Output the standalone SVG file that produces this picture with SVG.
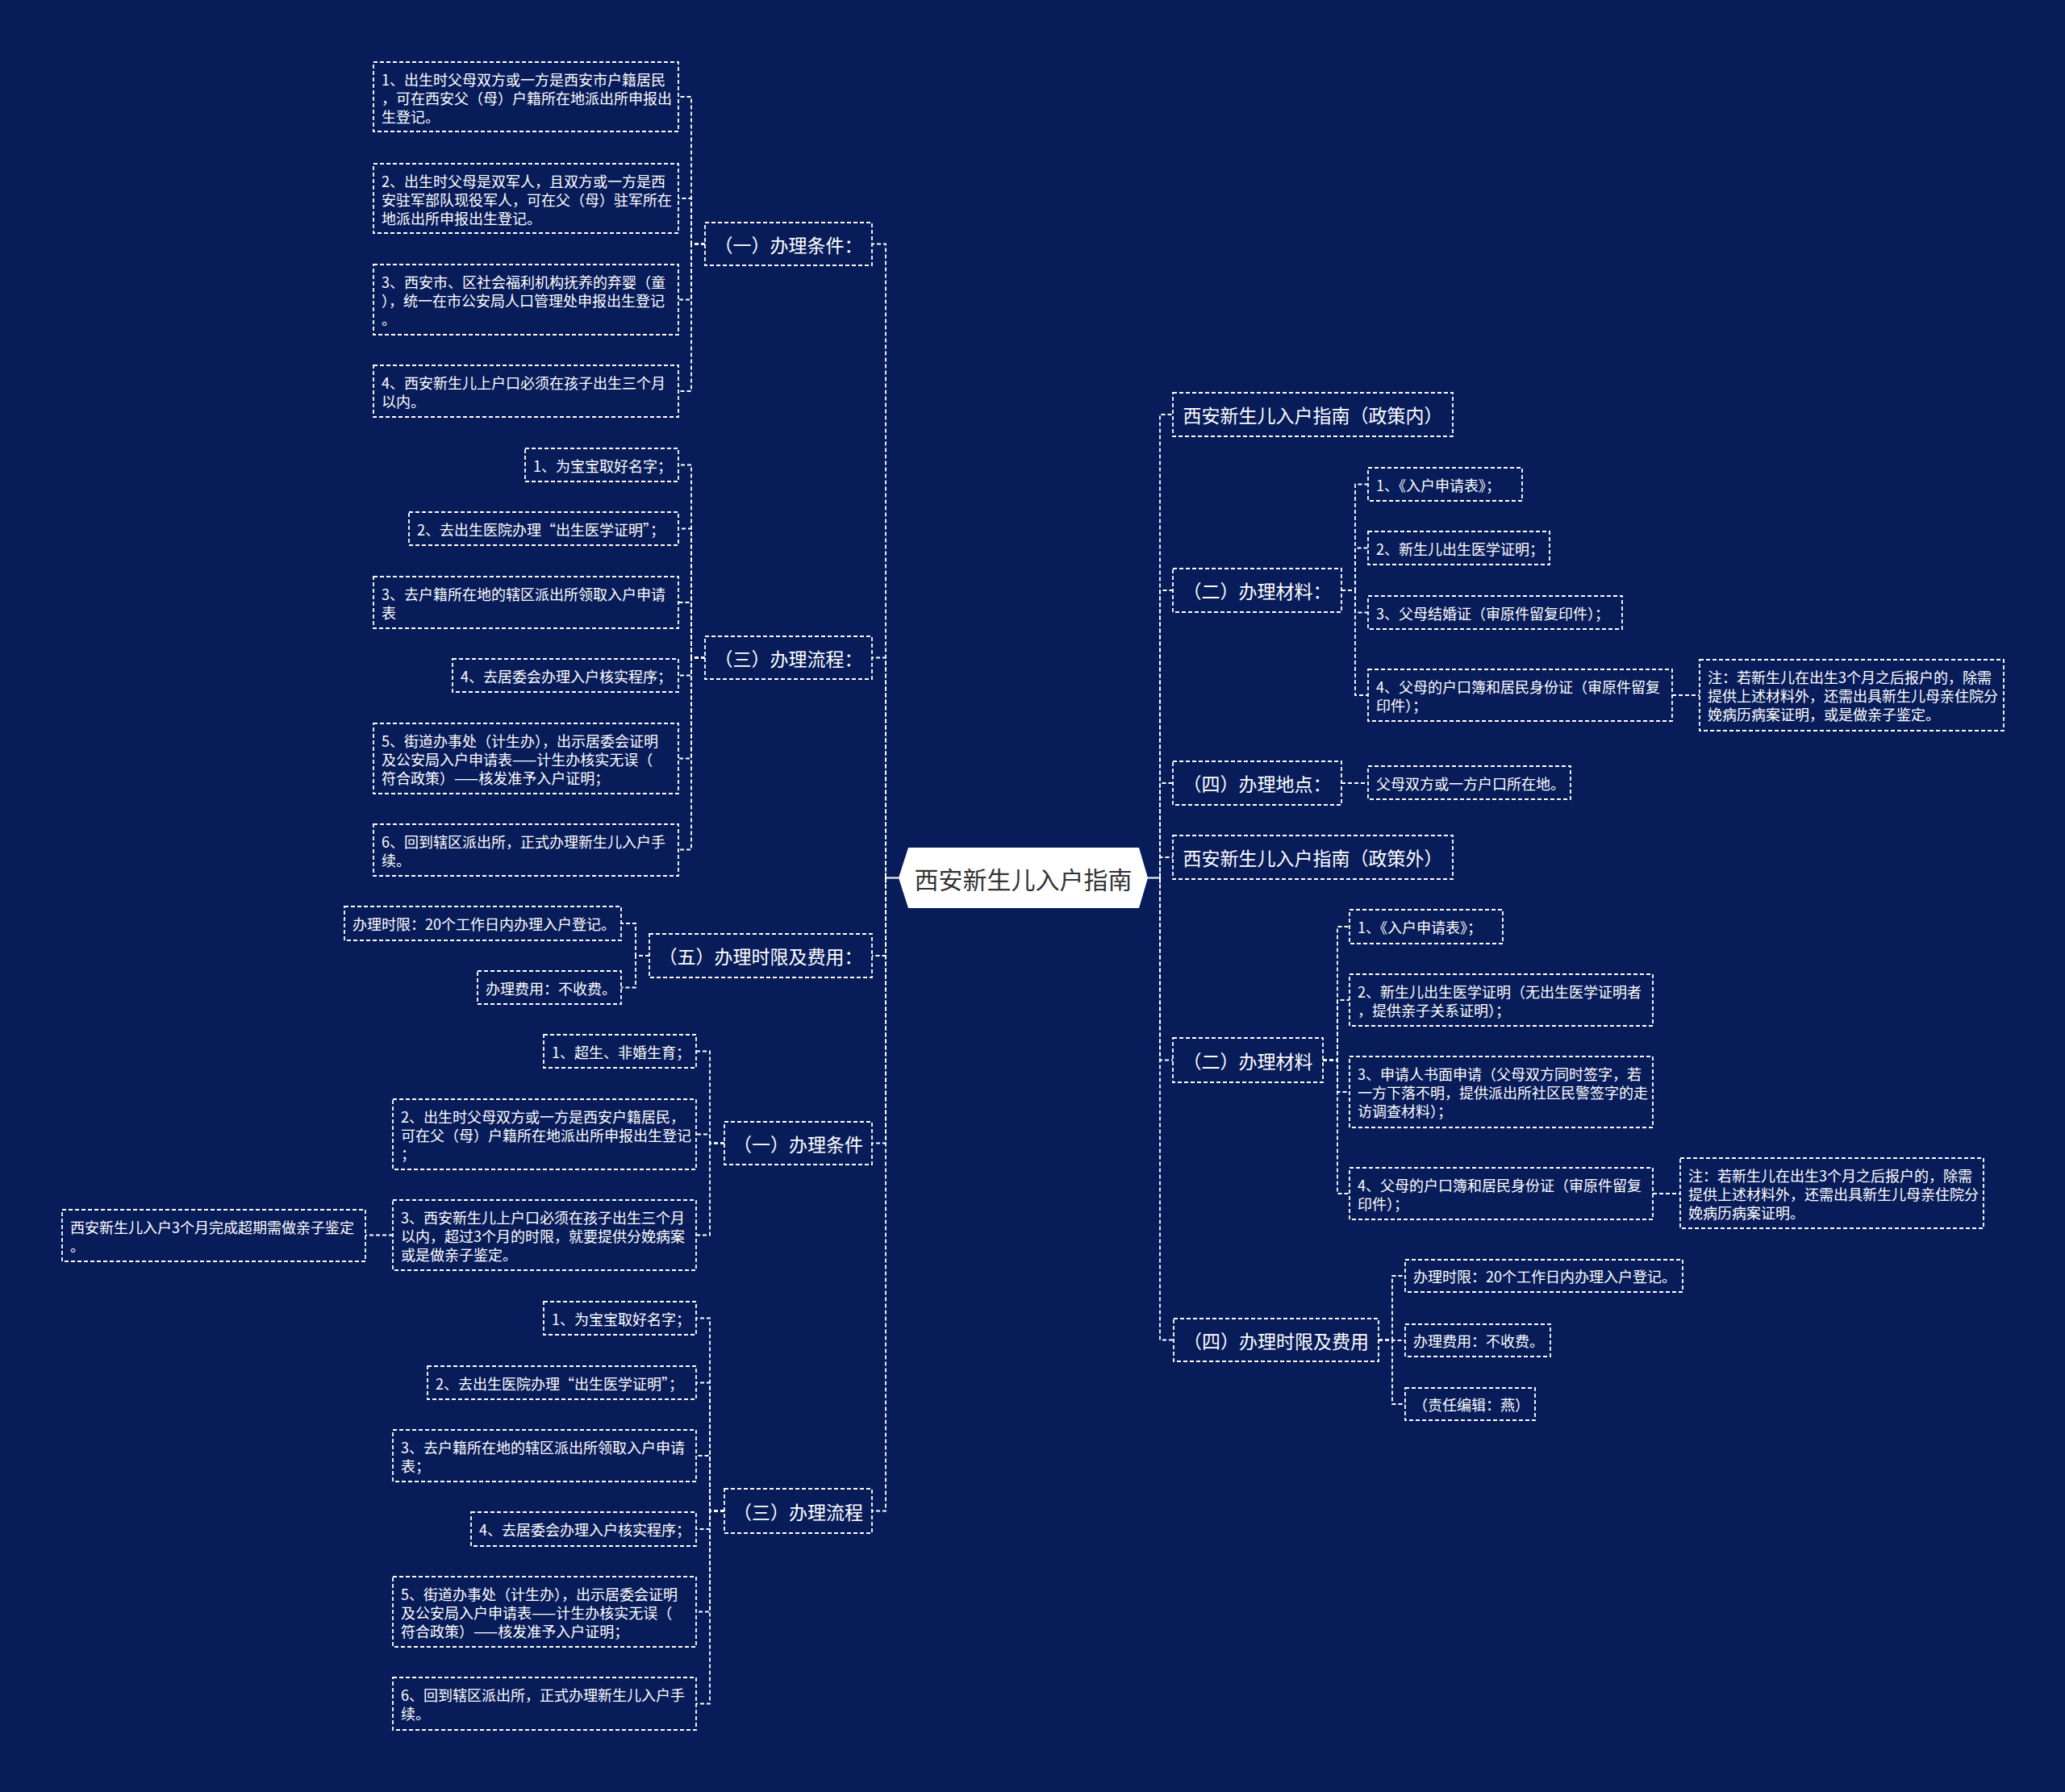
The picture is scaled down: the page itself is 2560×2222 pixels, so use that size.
<svg xmlns="http://www.w3.org/2000/svg" width="2560" height="2222" viewBox="0 0 2560 2222">
<style>
.n rect{fill:none;stroke:#fff;stroke-width:1.8;stroke-dasharray:5 3}
text{font-family:"Noto Sans CJK SC","Microsoft YaHei",sans-serif;fill:#fff;dominant-baseline:central}
.t{font-size:18px}
.h{font-size:23px;text-anchor:middle}
.c path{fill:none;stroke:#fff;stroke-width:1.8;stroke-dasharray:5 3}
.s{fill:none;stroke:#fff;stroke-width:2.5}
</style>
<rect x="0" y="0" width="2560" height="2222" fill="#081c59"/>
<g id="connectors" class="c">
<path class="s" style="stroke-dasharray:none" d="M1114 1088.5H1098M1098 1082V1095M1423 1088.5H1438M1438 1082V1095"/>
<path d="M1098 1088.5V302.5H1081"/>
<path d="M1098 1088.5V815.5H1081"/>
<path d="M1098 1088.5V1185H1081"/>
<path d="M1098 1088.5V1417.5H1081"/>
<path d="M1098 1088.5V1873.5H1081"/>
<path d="M1438 1088.5V514H1454"/>
<path d="M1438 1088.5V732H1454"/>
<path d="M1438 1088.5V971H1454"/>
<path d="M1438 1088.5V1063H1454"/>
<path d="M1438 1088.5V1314.5H1454"/>
<path d="M1438 1088.5V1661.5H1455"/>
<path d="M874 302.5H857V120H841"/>
<path d="M874 302.5H857V246H841"/>
<path d="M874 302.5H857V371.5H841"/>
<path d="M874 302.5H857V485H841"/>
<path d="M874 815.5H857V576.5H841"/>
<path d="M874 815.5H857V655.5H841"/>
<path d="M874 815.5H857V747H841"/>
<path d="M874 815.5H857V837.5H841"/>
<path d="M874 815.5H857V940.5H841"/>
<path d="M874 815.5H857V1053.5H841"/>
<path d="M805 1185H788V1145H770"/>
<path d="M805 1185H788V1224.5H770"/>
<path d="M898 1417.5H880V1303.5H863"/>
<path d="M898 1417.5H880V1406.5H863"/>
<path d="M898 1417.5H880V1531.5H863"/>
<path d="M487 1531.5H453"/>
<path d="M898 1873.5H880V1634.5H863"/>
<path d="M898 1873.5H880V1714.5H863"/>
<path d="M898 1873.5H880V1805H863"/>
<path d="M898 1873.5H880V1896H863"/>
<path d="M898 1873.5H880V1998.5H863"/>
<path d="M898 1873.5H880V2112.5H863"/>
<path d="M1663 732H1680V600.5H1696"/>
<path d="M1663 732H1680V679.5H1696"/>
<path d="M1663 732H1680V759.5H1696"/>
<path d="M1663 732H1680V862H1696"/>
<path d="M2073 862H2107"/>
<path d="M1663 971H1696"/>
<path d="M1640 1314.5H1658V1149H1673"/>
<path d="M1640 1314.5H1658V1240H1673"/>
<path d="M1640 1314.5H1658V1354H1673"/>
<path d="M1640 1314.5H1658V1480H1673"/>
<path d="M2049 1480H2083"/>
<path d="M1709 1661.5H1726V1582H1742"/>
<path d="M1709 1661.5H1726V1662H1742"/>
<path d="M1709 1661.5H1726V1741H1742"/>
</g>
<g id="root">
<polygon points="1114,1088.5 1126,1051 1412,1051 1423,1088.5 1412,1126 1126,1126" fill="#fff"/>
<text x="1268.5" y="1088.5" style="font-size:30px;fill:#333;text-anchor:middle">西安新生儿入户指南</text>
</g>
<g id="L1" class="n"><rect x="874" y="276" width="207" height="53"/><text class="h" x="977.5" y="302.5">（一）办理条件：</text></g>
<g id="L1a" class="n"><rect x="463" y="77" width="378" height="86"/><text class="t" x="473" y="97.5">1、出生时父母双方或一方是西安市户籍居民</text><text class="t" x="473" y="120.5">，可在西安父（母）户籍所在地派出所申报出</text><text class="t" x="473" y="143.5">生登记。</text></g>
<g id="L1b" class="n"><rect x="463" y="203" width="378" height="86"/><text class="t" x="473" y="223.5">2、出生时父母是双军人，且双方或一方是西</text><text class="t" x="473" y="246.5">安驻军部队现役军人，可在父（母）驻军所在</text><text class="t" x="473" y="269.5">地派出所申报出生登记。</text></g>
<g id="L1c" class="n"><rect x="463" y="328" width="378" height="87"/><text class="t" x="473" y="348.5">3、西安市、区社会福利机构抚养的弃婴（童</text><text class="t" x="473" y="371.5">），统一在市公安局人口管理处申报出生登记</text><text class="t" x="473" y="394.5">。</text></g>
<g id="L1d" class="n"><rect x="463" y="453" width="378" height="64"/><text class="t" x="473" y="473.5">4、西安新生儿上户口必须在孩子出生三个月</text><text class="t" x="473" y="496.5">以内。</text></g>
<g id="L2" class="n"><rect x="874" y="789" width="207" height="53"/><text class="h" x="977.5" y="815.5">（三）办理流程：</text></g>
<g id="L2a" class="n"><rect x="651" y="556" width="190" height="41"/><text class="t" x="661" y="576.5">1、为宝宝取好名字；</text></g>
<g id="L2b" class="n"><rect x="507" y="635" width="334" height="41"/><text class="t" x="517" y="655.5">2、去出生医院办理“出生医学证明”；</text></g>
<g id="L2c" class="n"><rect x="463" y="715" width="378" height="64"/><text class="t" x="473" y="735.5">3、去户籍所在地的辖区派出所领取入户申请</text><text class="t" x="473" y="758.5">表</text></g>
<g id="L2d" class="n"><rect x="561" y="817" width="280" height="41"/><text class="t" x="571" y="837.5">4、去居委会办理入户核实程序；</text></g>
<g id="L2e" class="n"><rect x="463" y="897" width="378" height="87"/><text class="t" x="473" y="917.5">5、街道办事处（计生办），出示居委会证明</text><text class="t" x="473" y="940.5">及公安局入户申请表——计生办核实无误（</text><text class="t" x="473" y="963.5">符合政策）——核发准予入户证明；</text></g>
<g id="L2f" class="n"><rect x="463" y="1022" width="378" height="64"/><text class="t" x="473" y="1042.5">6、回到辖区派出所，正式办理新生儿入户手</text><text class="t" x="473" y="1065.5">续。</text></g>
<g id="L3" class="n"><rect x="805" y="1158" width="276" height="54"/><text class="h" x="943" y="1185">（五）办理时限及费用：</text></g>
<g id="L3a" class="n"><rect x="427" y="1124" width="343" height="42"/><text class="t" x="437" y="1145">办理时限：20个工作日内办理入户登记。</text></g>
<g id="L3b" class="n"><rect x="592" y="1204" width="178" height="41"/><text class="t" x="602" y="1224.5">办理费用：不收费。</text></g>
<g id="L4" class="n"><rect x="898" y="1391" width="183" height="53"/><text class="h" x="989.5" y="1417.5">（一）办理条件</text></g>
<g id="L4a" class="n"><rect x="674" y="1283" width="189" height="41"/><text class="t" x="684" y="1303.5">1、超生、非婚生育；</text></g>
<g id="L4b" class="n"><rect x="487" y="1363" width="376" height="87"/><text class="t" x="497" y="1383.5">2、出生时父母双方或一方是西安户籍居民，</text><text class="t" x="497" y="1406.5">可在父（母）户籍所在地派出所申报出生登记</text><text class="t" x="497" y="1429.5">；</text></g>
<g id="L4c" class="n"><rect x="487" y="1488" width="376" height="87"/><text class="t" x="497" y="1508.5">3、西安新生儿上户口必须在孩子出生三个月</text><text class="t" x="497" y="1531.5">以内，超过3个月的时限，就要提供分娩病案</text><text class="t" x="497" y="1554.5">或是做亲子鉴定。</text></g>
<g id="L4c1" class="n"><rect x="77" y="1500" width="376" height="64"/><text class="t" x="87" y="1520.5">西安新生儿入户3个月完成超期需做亲子鉴定</text><text class="t" x="87" y="1543.5">。</text></g>
<g id="L5" class="n"><rect x="898" y="1846" width="183" height="55"/><text class="h" x="989.5" y="1873.5">（三）办理流程</text></g>
<g id="L5a" class="n"><rect x="674" y="1614" width="189" height="41"/><text class="t" x="684" y="1634.5">1、为宝宝取好名字；</text></g>
<g id="L5b" class="n"><rect x="530" y="1694" width="333" height="41"/><text class="t" x="540" y="1714.5">2、去出生医院办理“出生医学证明”；</text></g>
<g id="L5c" class="n"><rect x="487" y="1773" width="376" height="64"/><text class="t" x="497" y="1793.5">3、去户籍所在地的辖区派出所领取入户申请</text><text class="t" x="497" y="1816.5">表；</text></g>
<g id="L5d" class="n"><rect x="584" y="1875" width="279" height="42"/><text class="t" x="594" y="1896">4、去居委会办理入户核实程序；</text></g>
<g id="L5e" class="n"><rect x="487" y="1955" width="376" height="87"/><text class="t" x="497" y="1975.5">5、街道办事处（计生办），出示居委会证明</text><text class="t" x="497" y="1998.5">及公安局入户申请表——计生办核实无误（</text><text class="t" x="497" y="2021.5">符合政策）——核发准予入户证明；</text></g>
<g id="L5f" class="n"><rect x="487" y="2080" width="376" height="65"/><text class="t" x="497" y="2100.5">6、回到辖区派出所，正式办理新生儿入户手</text><text class="t" x="497" y="2123.5">续。</text></g>
<g id="R1" class="n"><rect x="1454" y="487" width="347" height="54"/><text class="h" x="1627.5" y="514">西安新生儿入户指南（政策内）</text></g>
<g id="R2" class="n"><rect x="1454" y="705" width="209" height="54"/><text class="h" x="1558.5" y="732">（二）办理材料：</text></g>
<g id="R2a" class="n"><rect x="1696" y="580" width="191" height="41"/><text class="t" x="1706" y="600.5">1、《入户申请表》；</text></g>
<g id="R2b" class="n"><rect x="1696" y="659" width="225" height="41"/><text class="t" x="1706" y="679.5">2、新生儿出生医学证明；</text></g>
<g id="R2c" class="n"><rect x="1696" y="739" width="315" height="41"/><text class="t" x="1706" y="759.5">3、父母结婚证（审原件留复印件）；</text></g>
<g id="R2d" class="n"><rect x="1696" y="830" width="377" height="64"/><text class="t" x="1706" y="850.5">4、父母的户口簿和居民身份证（审原件留复</text><text class="t" x="1706" y="873.5">印件）；</text></g>
<g id="R2d1" class="n"><rect x="2107" y="818" width="377" height="88"/><text class="t" x="2117" y="839">注：若新生儿在出生3个月之后报户的，除需</text><text class="t" x="2117" y="862">提供上述材料外，还需出具新生儿母亲住院分</text><text class="t" x="2117" y="885">娩病历病案证明，或是做亲子鉴定。</text></g>
<g id="R3" class="n"><rect x="1454" y="944" width="209" height="54"/><text class="h" x="1558.5" y="971">（四）办理地点：</text></g>
<g id="R3a" class="n"><rect x="1696" y="950" width="251" height="41"/><text class="t" x="1706" y="970.5">父母双方或一方户口所在地。</text></g>
<g id="R4" class="n"><rect x="1454" y="1036" width="347" height="54"/><text class="h" x="1627.5" y="1063">西安新生儿入户指南（政策外）</text></g>
<g id="R5" class="n"><rect x="1454" y="1287" width="186" height="55"/><text class="h" x="1547" y="1314.5">（二）办理材料</text></g>
<g id="R5a" class="n"><rect x="1673" y="1128" width="190" height="42"/><text class="t" x="1683" y="1149">1、《入户申请表》；</text></g>
<g id="R5b" class="n"><rect x="1673" y="1208" width="376" height="64"/><text class="t" x="1683" y="1228.5">2、新生儿出生医学证明（无出生医学证明者</text><text class="t" x="1683" y="1251.5">，提供亲子关系证明）；</text></g>
<g id="R5c" class="n"><rect x="1673" y="1310" width="376" height="88"/><text class="t" x="1683" y="1331">3、申请人书面申请（父母双方同时签字，若</text><text class="t" x="1683" y="1354">一方下落不明，提供派出所社区民警签字的走</text><text class="t" x="1683" y="1377">访调查材料）；</text></g>
<g id="R5d" class="n"><rect x="1673" y="1448" width="376" height="64"/><text class="t" x="1683" y="1468.5">4、父母的户口簿和居民身份证（审原件留复</text><text class="t" x="1683" y="1491.5">印件）；</text></g>
<g id="R5d1" class="n"><rect x="2083" y="1436" width="376" height="87"/><text class="t" x="2093" y="1456.5">注：若新生儿在出生3个月之后报户的，除需</text><text class="t" x="2093" y="1479.5">提供上述材料外，还需出具新生儿母亲住院分</text><text class="t" x="2093" y="1502.5">娩病历病案证明。</text></g>
<g id="R6" class="n"><rect x="1455" y="1635" width="254" height="53"/><text class="h" x="1582" y="1661.5">（四）办理时限及费用</text></g>
<g id="R6a" class="n"><rect x="1742" y="1562" width="344" height="40"/><text class="t" x="1752" y="1582">办理时限：20个工作日内办理入户登记。</text></g>
<g id="R6b" class="n"><rect x="1742" y="1642" width="180" height="40"/><text class="t" x="1752" y="1662">办理费用：不收费。</text></g>
<g id="R6c" class="n"><rect x="1742" y="1721" width="161" height="40"/><text class="t" x="1752" y="1741">（责任编辑：燕）</text></g>
</svg>
